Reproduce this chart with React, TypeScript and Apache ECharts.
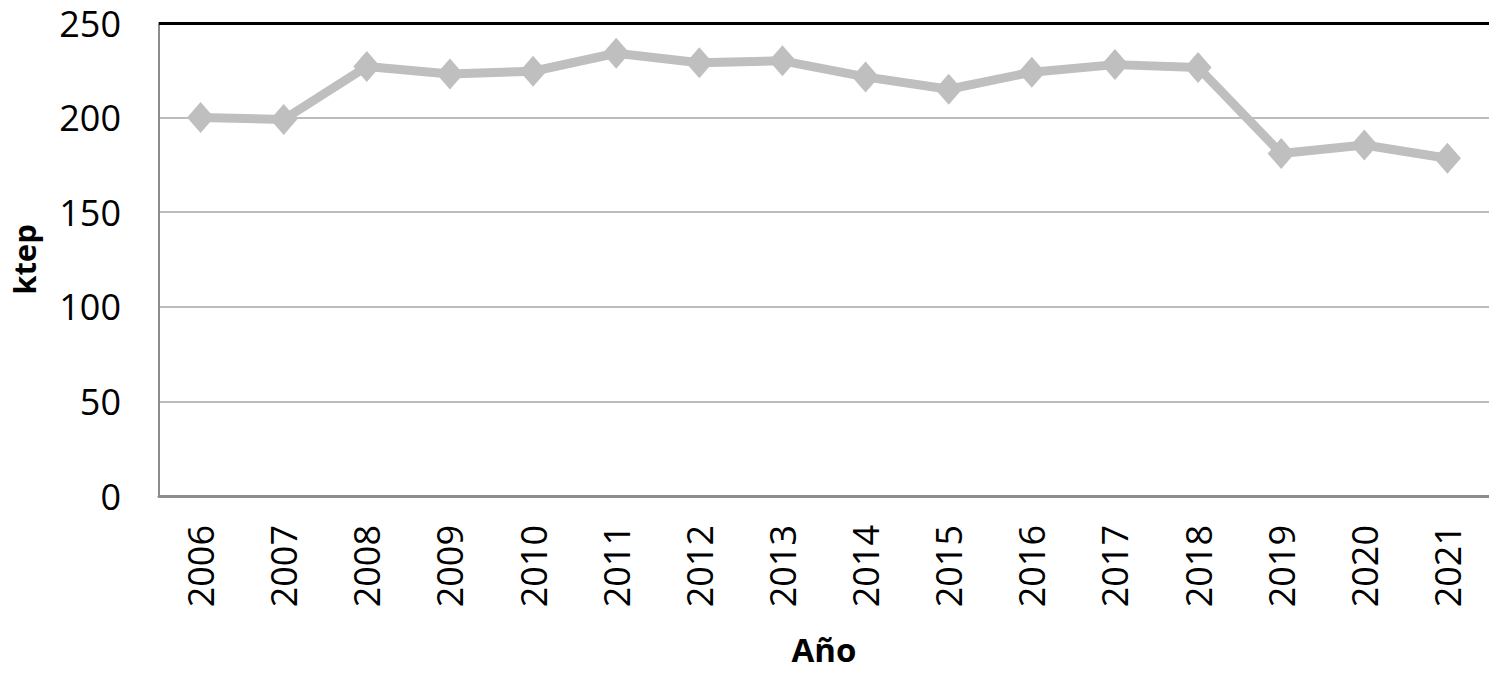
import React, { useEffect, useRef } from "react";
import * as echarts from "echarts";

const years = ["2006","2007","2008","2009","2010","2011","2012","2013","2014","2015","2016","2017","2018","2019","2020","2021"];
const values = [200, 199, 227, 223, 224.5, 234, 229, 230, 221.5, 215, 224, 228, 226.5, 181, 185.5, 178.5];
const yTicks = { min: 0, max: 250, interval: 50 };

export default function App() {
  const ref = useRef<HTMLDivElement>(null);
  useEffect(() => {
    if (!ref.current) return;
    const chart = echarts.init(ref.current, null, { renderer: "svg" });
    const font = "'Open Sans', 'DejaVu Sans', sans-serif";
    chart.setOption({
      animation: false,
      backgroundColor: "#ffffff",
      grid: { left: 155, top: 23, width: 1346, height: 473 },
      xAxis: {
        type: "category",
        data: years,
        boundaryGap: true,
        name: "Año",
        nameLocation: "middle",
        nameGap: 137,
        nameTextStyle: { fontFamily: font, fontWeight: "bold", fontSize: 33, color: "#000" },
        axisLine: { show: true, lineStyle: { color: "#8c8c8c", width: 3 } },
        axisTick: { show: false },
        axisLabel: { rotate: 90, margin: 29, fontFamily: font, fontSize: 36, color: "#000" },
        splitLine: { show: false },
      },
      yAxis: {
        type: "value",
        min: yTicks.min,
        max: yTicks.max,
        interval: yTicks.interval,
        name: "ktep",
        nameLocation: "middle",
        nameRotate: 90,
        nameGap: 120,
        nameTextStyle: { fontFamily: font, fontWeight: "bold", fontSize: 31, color: "#000" },
        axisLine: { show: true, lineStyle: { color: "#8c8c8c", width: 2 } },
        axisTick: { show: false },
        axisLabel: { margin: 38, fontFamily: font, fontSize: 36, color: "#000" },
        splitLine: { show: true, lineStyle: { color: "#a6a6a6", width: 1.5 } },
      },
      series: [
        {
          type: "line",
          data: values,
          symbol: "diamond",
          symbolSize: [27, 31],
          lineStyle: { color: "#bfbfbf", width: 9 },
          itemStyle: { color: "#bfbfbf" },
          markLine: {
            silent: true,
            symbol: ["none", "none"],
            label: { show: false },
            lineStyle: { color: "#000000", width: 3, type: "solid" },
            data: [{ yAxis: yTicks.max }],
          },
        },
      ],
    });
    return () => chart.dispose();
  }, []);
  return <div ref={ref} style={{ position: "absolute", left: 0, top: 0, width: 1489, height: 673 }} />;
}
